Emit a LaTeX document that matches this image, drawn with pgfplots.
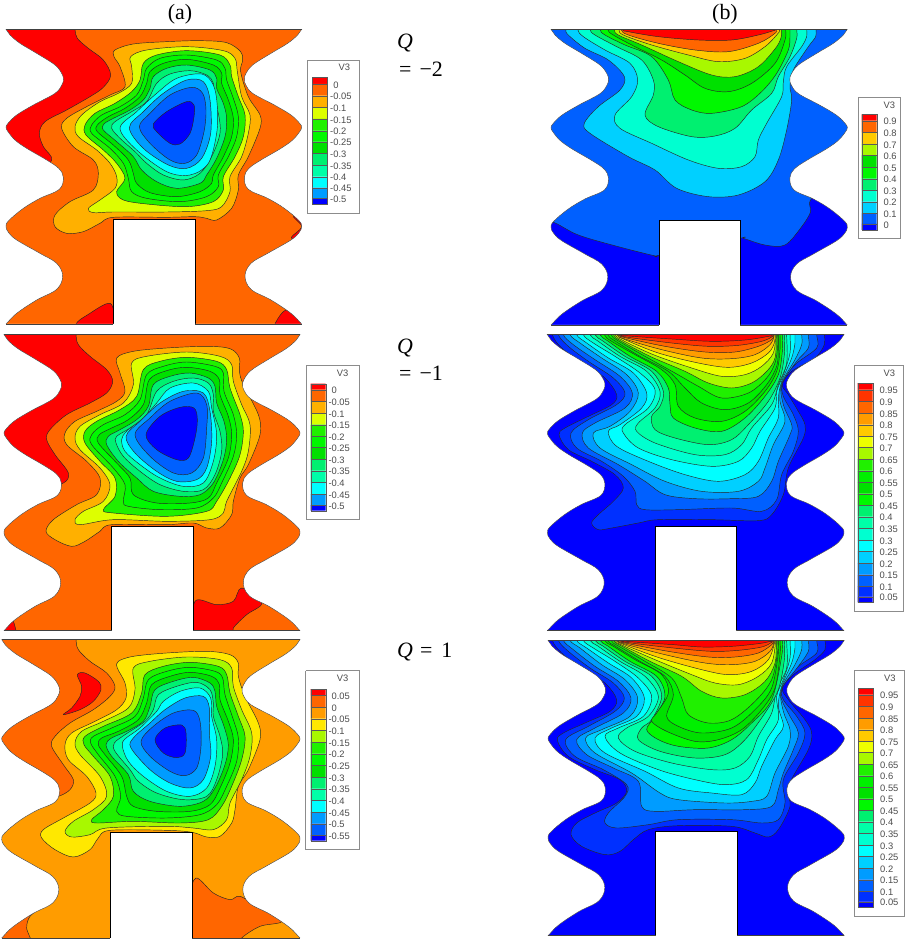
\documentclass[border=0pt]{standalone}
\usepackage{pgfplots}
\pgfplotsset{compat=1.18}
\usepackage{fontspec}
\setmainfont{Liberation Sans}
\newfontfamily\serifF{Liberation Serif}
\definecolor{r}{HTML}{FF0000}\definecolor{ro}{HTML}{FF3400}\definecolor{o}{HTML}{FF6600}
\definecolor{am}{HTML}{FF9C00}\definecolor{amb}{HTML}{FFB000}\definecolor{go}{HTML}{FFCA00}
\definecolor{ye}{HTML}{EEFF00}\definecolor{yeb}{HTML}{DDFF00}\definecolor{yec}{HTML}{FFE800}
\definecolor{lg}{HTML}{A8F800}\definecolor{ga}{HTML}{20F000}\definecolor{gb}{HTML}{00F000}
\definecolor{gc}{HTML}{00E000}\definecolor{gd}{HTML}{00F800}\definecolor{ge}{HTML}{00F070}
\definecolor{sa}{HTML}{00FFA8}\definecolor{sb}{HTML}{00FFD0}\definecolor{cy}{HTML}{00FFFF}
\definecolor{sk}{HTML}{00D0FF}\definecolor{skb}{HTML}{009CFF}\definecolor{ba}{HTML}{0060FF}
\definecolor{bb}{HTML}{0030FF}\definecolor{bl}{HTML}{0000FF}
\colorlet{cl}{black!85}
\newcommand\R[2]{\addplot[smooth cycle,tension=.55,fill=#1,draw=cl,line width=.45bp] coordinates {#2};}
% open contour leaving through the top edge T at x = #3 and x = #4
\newcommand\RT[5]{\addplot[smooth cycle,tension=.55,fill=#1,draw=cl,line width=.45bp] coordinates {(#3,#2-40)(#3,#2)#5(#4,#2)(#4,#2-40)};}
\newcommand\Base[5]{\addplot[fill=#1,draw=none] coordinates {(#2,#4)(#3,#4)(#3,#5)(#2,#5)(#2,#4)};}
\newcommand\Shape[7]{%
 \addplot[smooth cycle,tension=.6,fill=white,draw=black!75,line width=.4bp,
   x filter/.expression={#1+(x-18)*(#2-#1)/887},y filter/.expression={#3+(y-88)*(#4-#3)/884}]
   coordinates {(-400,-100)(-200,-60)(-20,60)(18,88)(30,105)(60,130)(110,160)(165,195)(186,222)(190,238)(186,254)(165,280)(100,315)(50,345)(24,370)(18,382)(24,395)(45,420)(80,445)(140,480)(176,505)(190,532)(178,568)(120,595)(70,625)(26,662)(18,680)(26,698)(50,720)(120,760)(170,790)(188,828)(170,868)(110,900)(50,940)(18,972)(-20,1010)(-200,1100)(-400,1100)};
 \addplot[smooth cycle,tension=.6,fill=white,draw=black!75,line width=.4bp,
   x filter/.expression={#2-(x-18)*(#2-#1)/887},y filter/.expression={#3+(y-88)*(#4-#3)/884}]
   coordinates {(-400,-100)(-200,-60)(-20,60)(18,88)(30,105)(60,130)(110,160)(165,195)(186,222)(190,238)(186,254)(165,280)(100,315)(50,345)(24,370)(18,382)(24,395)(45,420)(80,445)(140,480)(176,505)(190,532)(178,568)(120,595)(70,625)(26,662)(18,680)(26,698)(50,720)(120,760)(170,790)(188,828)(170,868)(110,900)(50,940)(18,972)(-20,1010)(-200,1100)(-400,1100)};
 \addplot[fill=white,draw=black,line width=.8bp] coordinates {(#5,#4+20)(#5,#7)(#6,#7)(#6,#4+20)};
 \addplot[fill=white,draw=none] coordinates {(-50,-50)(1200,-50)(1200,#3)(-50,#3)(-50,-50)};
 \addplot[fill=white,draw=none] coordinates {(-50,#4)(1200,#4)(1200,#4+200)(-50,#4+200)(-50,#4)};
 \addplot[draw=black!75,line width=.5bp] coordinates {(#1,#3)(#2,#3)};
 \addplot[draw=black!75,line width=.5bp] coordinates {(#1,#4)(#5,#4)};
 \addplot[draw=black!75,line width=.5bp] coordinates {(#6,#4)(#2,#4)};
}
% legend
\tikzset{lab/.style={anchor=west,inner sep=0pt,text=black!70,font=\fontsize{9.4}{10}\selectfont}}
\newcommand\LegBox[9]{% x0 y0 x1 y1 , sa sb tx ytop , V3 x
 \addplot[fill=white,draw=black!45,line width=.8bp] coordinates {(#1,#2)(#3,#2)(#3,#4)(#1,#4)(#1,#2)};
 \node[lab] at (axis cs:#9,#2+23) {V3};
 \def\sA{#5}\def\sB{#6}\def\tX{#7}\def\yC{#8}}
\newcommand\Sw[3]{%
 \edef\tmp{\noexpand\addplot[fill=#1,draw=black!65,line width=.3bp] coordinates {(\sA,\yC)(\sB,\yC)(\sB,#2)(\sA,#2)(\sA,\yC)};
 \noexpand\node[lab] at (axis cs:\tX,#2+3) {\unexpanded{#3}};}\tmp
 \def\yC{#2}}
\newcommand\SwE[2]{%
 \edef\tmp{\noexpand\addplot[fill=#1,draw=black!65,line width=.3bp] coordinates {(\sA,\yC)(\sB,\yC)(\sB,#2)(\sA,#2)(\sA,\yC)};}\tmp}
\pgfplotsset{panel/.style n args={4}{scale only axis,hide axis,anchor=south west,
  at={(#1bp,#2bp)},width=#3bp,height=#4bp,xmin=0,xmax=3*#3,ymin=0,ymax=3*#4,y dir=reverse}}
\newcommand\PH{\phantom{-}}
\begin{document}
\begin{tikzpicture}
\path[use as bounding box] (0,0) rectangle (906bp,941bp);
% ---------- A1
\begin{axis}[panel={0}{611}{360}{330}]
\Base{o}{18}{905}{88}{972}
\R{r}{(225,50)(225,88)(232,115)(265,145)(310,180)(332,225)(310,262)(270,290)(200,330)(135,365)(118,400)(130,440)(155,480)(100,520)(-50,500)(-50,50)}
\R{r}{(228,972)(262,945)(330,910)(345,970)(340,1010)(228,1010)}
\R{r}{(880,645)(905,680)(875,715)(950,720)(950,640)}
\R{r}{(825,972)(860,930)(905,970)(930,1010)(825,1010)}
\R{amb}{(345,150)(400,132)(500,125)(600,122)(680,128)(722,155)(728,180)(722,215)(745,290)(780,345)(780,385)(745,470)(715,525)(715,570)(695,625)(650,660)(620,655)(585,650)(500,652)(340,652)(300,670)(250,695)(200,700)(165,680)(165,645)(210,605)(280,570)(295,520)(280,480)(220,440)(185,385)(200,355)(260,320)(330,285)(375,260)(360,200)(342,170)}
\R{yeb}{(392,170)(440,150)(560,140)(670,152)(705,175)(712,215)(725,290)(750,345)(745,400)(725,470)(690,530)(690,575)(665,620)(620,632)(500,636)(340,636)(280,638)(265,625)(300,600)(345,565)(350,530)(330,490)(290,450)(235,410)(225,380)(245,345)(300,305)(355,280)(395,250)(395,200)}
\R{ga}{(430,190)(470,165)(560,152)(660,165)(690,195)(695,230)(715,290)(735,345)(730,410)(705,470)(670,530)(670,570)(640,605)(560,620)(440,612)(370,600)(350,575)(375,535)(350,490)(310,450)(258,405)(255,375)(285,340)(345,310)(395,275)(420,240)}
\R{gd}{(440,205)(480,175)(560,165)(650,180)(675,205)(680,240)(700,295)(715,350)(710,410)(685,470)(655,525)(655,560)(620,590)(540,605)(440,595)(395,575)(385,535)(370,490)(330,445)(275,400)(275,375)(305,345)(360,320)(410,285)(430,240)}
\R{gc}{(450,215)(490,190)(560,178)(640,195)(665,220)(665,250)(685,300)(700,355)(695,410)(670,470)(640,525)(635,550)(600,575)(530,590)(450,578)(410,550)(400,520)(385,480)(340,435)(292,395)(292,375)(325,350)(375,325)(420,290)(440,250)}
\R{ge}{(460,230)(500,205)(560,195)(630,210)(650,235)(650,265)(670,310)(680,355)(675,410)(650,475)(620,525)(600,550)(530,565)(470,545)(425,510)(400,470)(350,425)(310,390)(312,372)(340,355)(390,330)(430,300)(450,265)}
\R{sa}{(470,250)(510,222)(570,212)(620,225)(640,250)(640,290)(655,340)(660,400)(635,470)(600,520)(550,540)(490,525)(440,490)(405,455)(360,415)(335,385)(345,365)(395,335)(440,305)}
\R{cy}{(360,385)(410,335)(470,280)(530,235)(605,222)(640,255)(652,320)(650,400)(625,490)(570,525)(500,515)(410,450)}
\R{skb}{(388,383)(430,335)(490,280)(560,240)(610,245)(630,300)(632,400)(605,475)(560,505)(505,495)(430,445)}
\R{ba}{(418,380)(450,340)(510,285)(575,262)(608,280)(618,330)(612,395)(590,465)(555,490)(510,480)(450,430)}
\R{bl}{(460,372)(500,335)(560,305)(582,315)(582,350)(570,400)(540,432)(510,430)(470,395)}
\Shape{18}{905}{88}{972}{340}{585}{658}
\LegBox{922}{180}{1078}{640}{937}{982}{990}{232}{1015}
\Sw{r}{252}{\PH 0}\Sw{o}{287}{-0.05}\Sw{amb}{322}{-0.1}\Sw{yeb}{357}{-0.15}\Sw{ga}{392}{-0.2}\Sw{gd}{425}{-0.25}\Sw{gc}{460}{-0.3}\Sw{ge}{495}{-0.35}\Sw{sa}{530}{-0.4}\Sw{cy}{563}{-0.45}\Sw{skb}{595}{-0.5}\SwE{bl}{612}
\end{axis}
% ---------- A2
\begin{axis}[panel={0}{308}{360}{305}]
\Base{o}{12}{900}{20}{908}
\R{r}{(228,-20)(228,20)(235,50)(270,85)(320,125)(338,160)(320,195)(270,225)(200,260)(150,305)(140,335)(165,380)(205,435)(190,465)(120,480)(-50,480)(-50,-20)}
\R{r}{(585,820)(650,830)(700,820)(725,780)(785,825)(740,860)(700,900)(695,930)(585,930)}
\R{r}{(15,880)(35,870)(48,908)(48,930)(-20,930)(-20,880)}
\R{amb}{(350,90)(400,70)(500,60)(620,55)(690,62)(718,90)(718,130)(730,170)(775,260)(780,320)(745,410)(720,450)(700,520)(695,560)(660,600)(620,600)(580,585)(500,590)(335,590)(300,610)(255,640)(215,655)(165,635)(138,610)(160,575)(230,530)(290,500)(300,450)(260,400)(200,350)(195,315)(225,280)(290,250)(350,220)(375,190)(360,135)}
\R{yeb}{(395,105)(440,85)(560,72)(660,85)(695,110)(700,160)(725,230)(750,290)(745,370)(725,430)(680,520)(670,555)(630,575)(500,580)(340,575)(240,590)(225,575)(250,550)(310,520)(330,470)(300,420)(240,365)(225,330)(240,295)(300,260)(370,225)(400,170)}
\R{ga}{(430,125)(480,100)(560,88)(650,100)(680,125)(690,180)(720,260)(730,310)(720,380)(690,450)(650,520)(620,550)(500,565)(340,555)(310,545)(345,505)(345,450)(300,400)(255,345)(255,310)(290,280)(360,245)(410,205)}
\R{gd}{(440,140)(490,115)(560,102)(645,115)(670,135)(672,190)(700,260)(710,320)(700,385)(665,465)(640,510)(590,540)(480,545)(385,535)(370,520)(375,470)(340,420)(275,350)(275,320)(310,290)(375,260)(420,215)}
\R{gc}{(448,155)(500,128)(560,118)(630,130)(658,155)(660,200)(685,265)(695,320)(685,390)(650,465)(625,510)(570,525)(470,525)(400,500)(390,450)(350,405)(295,345)(298,320)(335,300)(385,275)(430,230)}
\R{ge}{(460,170)(510,145)(570,135)(625,150)(645,175)(650,225)(672,280)(680,335)(670,395)(640,465)(600,500)(540,505)(460,490)(410,450)(355,400)(320,350)(325,325)(360,305)(410,275)(445,235)}
\R{sa}{(470,190)(520,160)(580,150)(625,165)(640,200)(640,250)(660,310)(665,370)(645,440)(610,485)(550,490)(480,470)(420,430)(370,385)(348,345)(350,325)(390,300)(440,260)}
\R{cy}{(510,180)(580,165)(625,190)(635,240)(650,320)(640,400)(610,465)(550,475)(480,450)(420,410)(375,370)(365,335)(380,310)(430,270)(470,225)}
\R{skb}{(378,325)(420,280)(480,225)(550,190)(610,195)(630,250)(635,340)(620,420)(590,455)(530,460)(470,430)(405,375)}
\R{ba}{(405,320)(450,270)(510,220)(590,195)(620,230)(620,300)(610,390)(575,435)(520,435)(450,385)}
\R{bl}{(438,320)(480,265)(540,238)(582,240)(592,275)(585,330)(565,390)(530,395)(470,365)}
\Shape{12}{900}{20}{908}{335}{580}{595}
\LegBox{918}{112}{1078}{575}{932}{977}{985}{167}{1010}
\Sw{r}{185}{\PH 0}\Sw{o}{220}{-0.05}\Sw{amb}{255}{-0.1}\Sw{yeb}{290}{-0.15}\Sw{ga}{325}{-0.2}\Sw{gd}{358}{-0.25}\Sw{gc}{393}{-0.3}\Sw{ge}{428}{-0.35}\Sw{sa}{463}{-0.4}\Sw{cy}{498}{-0.45}\Sw{skb}{531}{-0.5}\SwE{bl}{548}
\end{axis}
% ---------- A3
\begin{axis}[panel={0}{0}{360}{308}]
\Base{am}{5}{900}{20}{915}
\R{o}{(228,-20)(228,20)(235,50)(270,85)(320,120)(345,160)(330,190)(280,230)(210,270)(165,310)(155,340)(190,395)(220,440)(210,470)(175,490)(120,500)(-50,500)(-50,-20)}
\R{r}{(232,125)(255,120)(295,145)(303,170)(280,205)(240,230)(190,245)(215,225)(240,190)(245,160)}
\R{o}{(125,820)(90,850)(80,885)(90,940)(-20,940)(-20,880)(20,870)(70,835)}
\R{o}{(588,735)(640,780)(690,800)(720,790)(780,825)(845,865)(780,880)(725,915)(720,940)(570,940)(570,800)}
\R{yec}{(355,85)(400,70)(500,60)(620,55)(690,65)(715,90)(715,130)(735,190)(775,270)(780,320)(745,410)(715,460)(705,530)(695,570)(660,610)(620,612)(577,598)(500,592)(330,592)(295,615)(270,650)(220,672)(165,650)(125,615)(130,590)(190,555)(270,510)(288,480)(260,430)(205,380)(195,335)(215,300)(285,265)(350,230)(378,195)(375,150)(352,105)}
\R{lg}{(400,105)(450,85)(560,72)(660,80)(695,105)(700,160)(725,230)(755,300)(750,370)(725,440)(690,510)(680,560)(640,590)(580,585)(500,580)(320,585)(270,605)(215,612)(195,595)(220,565)(280,530)(320,490)(300,430)(240,365)(225,330)(245,295)(310,265)(385,225)(405,170)}
\R{ga}{(435,125)(490,100)(570,88)(655,100)(680,125)(690,180)(715,250)(735,310)(725,380)(695,460)(665,520)(625,560)(540,570)(400,565)(290,570)(275,560)(310,530)(340,490)(330,430)(280,370)(252,335)(255,310)(310,280)(395,240)(425,180)}
\R{gd}{(445,140)(500,115)(570,103)(645,115)(668,135)(675,185)(700,260)(715,315)(710,385)(680,460)(650,515)(600,545)(500,555)(380,550)(350,535)(362,490)(345,430)(295,365)(272,330)(280,310)(335,285)(405,250)(430,195)}
\R{gc}{(455,155)(510,130)(570,118)(635,130)(658,155)(660,200)(685,265)(700,320)(690,390)(660,465)(630,515)(570,535)(470,535)(400,520)(380,490)(365,430)(315,365)(295,335)(305,315)(355,295)(415,260)(440,210)}
\R{ge}{(465,170)(520,145)(580,133)(630,150)(645,175)(650,220)(672,280)(685,335)(675,395)(645,465)(610,505)(540,520)(450,505)(400,475)(385,425)(335,370)(318,335)(335,315)(380,295)(430,265)(450,220)}
\R{sa}{(475,185)(530,160)(590,148)(630,170)(640,210)(640,250)(660,310)(668,365)(650,440)(620,490)(550,500)(470,480)(415,445)(390,410)(345,355)(343,330)(375,305)(435,265)(460,230)}
\R{cy}{(490,205)(540,175)(600,165)(632,195)(635,250)(650,320)(645,400)(620,465)(570,490)(500,475)(430,430)(385,385)(367,340)(375,318)(420,285)(470,235)}
\R{skb}{(495,230)(555,195)(610,190)(628,225)(628,300)(632,370)(610,440)(570,465)(510,450)(450,410)(393,345)(400,315)(450,270)}
\R{ba}{(423,325)(460,280)(520,240)(580,232)(600,265)(603,340)(590,405)(555,428)(510,415)(450,370)}
\R{bl}{(465,320)(495,285)(545,276)(558,300)(555,360)(530,374)(490,360)}
\Shape{5}{900}{20}{915}{330}{577}{598}
\LegBox{917}{113}{1078}{650}{932}{977}{985}{168}{1010}
\Sw{r}{186}{\PH 0.05}\Sw{o}{222}{\PH 0}\Sw{am}{257}{-0.05}\Sw{yec}{292}{-0.1}\Sw{lg}{327}{-0.15}\Sw{ga}{362}{-0.2}\Sw{gd}{397}{-0.25}\Sw{gc}{432}{-0.3}\Sw{ge}{467}{-0.35}\Sw{sa}{502}{-0.4}\Sw{cy}{537}{-0.45}\Sw{skb}{572}{-0.5}\Sw{ba}{606}{-0.55}\SwE{bl}{623}
\end{axis}
% ---------- B1
\begin{axis}[panel={545}{611}{361}{330}]
\Base{bl}{18}{907}{88}{975}
\R{ba}{(-50,660)(20,665)(100,705)(220,740)(332,768)(345,765)(585,715)(595,715)(660,735)(720,735)(770,680)(797,635)(800,595)(900,500)(1000,300)(1000,-20)(-50,-20)}
\RT{sk}{88}{62}{813}{(70,105)(120,145)(190,180)(238,230)(225,270)(160,320)(118,370)(135,400)(250,470)(330,510)(395,565)(490,590)(580,585)(660,545)(700,480)(725,390)(740,300)(735,260)(745,210)(790,140)(812,110)}
\RT{sb}{88}{98}{785}{(115,110)(180,150)(255,190)(278,240)(260,290)(210,345)(225,385)(320,430)(430,480)(520,505)(590,500)(630,470)(640,420)(665,370)(710,290)(715,245)(725,200)(770,140)(785,110)}
\RT{ge}{88}{135}{755}{(150,105)(215,140)(290,180)(325,240)(325,285)(300,345)(340,380)(440,410)(510,408)(570,385)(620,330)(680,280)(700,230)(735,170)(755,115)}
\RT{gd}{88}{165}{735}{(180,105)(240,135)(320,170)(370,240)(390,300)(440,330)(500,340)(590,320)(650,275)(695,220)(730,150)(735,110)}
\RT{gc}{88}{188}{722}{(205,105)(270,140)(350,180)(420,225)(480,265)(550,275)(620,250)(690,190)(720,120)}
\RT{lg}{88}{208}{710}{(220,105)(290,135)(400,185)(500,225)(570,230)(640,200)(695,140)(710,105)}
\RT{go}{88}{222}{705}{(235,105)(320,135)(430,165)(520,185)(600,175)(660,140)(695,105)}
\RT{o}{88}{228}{695}{(250,105)(340,130)(450,150)(550,155)(640,130)(690,100)}
\RT{r}{88}{232}{690}{(250,95)(340,110)(460,120)(560,120)(640,105)(685,92)}
\Shape{18}{907}{88}{975}{343}{585}{660}
\LegBox{940}{293}{1065}{714}{950}{995}{1015}{343}{1015}
\Sw{r}{362}{0.9}\Sw{o}{397}{0.8}\Sw{go}{432}{0.7}\Sw{lg}{466}{0.6}\Sw{gc}{501}{0.5}\Sw{gd}{536}{0.4}\Sw{ge}{570}{0.3}\Sw{sb}{605}{0.2}\Sw{sk}{640}{0.1}\Sw{ba}{672}{0}\SwE{bl}{690}
\end{axis}
% ---------- B2
\begin{axis}[panel={545}{308}{361}{305}]
\Base{bl}{7}{897}{20}{908}
\RT{bb}{20}{22}{838}{(50,60)(120,110)(180,150)(215,200)(200,230)(130,265)(60,300)(42,320)(70,365)(140,400)(210,440)(235,480)(205,520)(160,560)(140,585)(160,605)(200,600)(280,585)(340,575)(500,575)(640,578)(680,560)(715,500)(730,420)(775,330)(780,290)(760,250)(730,200)(712,170)(740,130)(810,90)(838,50)}
\RT{ba}{20}{40}{815}{(70,55)(130,100)(205,150)(240,195)(215,230)(130,275)(78,315)(95,360)(170,400)(235,445)(270,490)(275,530)(300,545)(400,545)(560,540)(650,550)(695,515)(710,440)(745,370)(760,310)(745,260)(715,205)(712,165)(750,110)(815,60)}
\RT{skb}{20}{55}{790}{(85,50)(150,95)(225,145)(262,195)(240,240)(150,285)(112,315)(130,360)(220,410)(300,460)(360,500)(450,512)(560,512)(640,505)(680,460)(700,400)(735,320)(740,290)(715,230)(710,170)(755,100)(790,60)}
\RT{sk}{20}{75}{770}{(105,45)(170,90)(245,140)(280,195)(255,250)(195,295)(145,315)(165,360)(260,410)(360,460)(470,490)(580,490)(640,460)(660,420)(685,350)(720,280)(705,220)(710,165)(750,95)(770,50)}
\RT{cy}{20}{95}{750}{(125,45)(190,90)(265,135)(305,195)(290,240)(225,290)(190,310)(215,355)(310,400)(420,440)(520,460)(600,440)(640,400)(670,330)(700,270)(700,210)(710,160)(740,90)(750,45)}
\RT{sb}{20}{115}{735}{(145,45)(210,85)(285,135)(330,185)(310,240)(240,290)(235,315)(280,360)(380,395)(500,415)(580,400)(620,360)(645,310)(690,240)(695,190)(715,140)(735,75)}
\RT{sa}{20}{135}{725}{(160,40)(225,85)(305,130)(345,190)(330,240)(280,285)(275,310)(330,345)(450,380)(540,380)(590,350)(620,300)(680,230)(700,170)(725,105)}
\RT{ge}{20}{150}{718}{(175,40)(240,85)(320,130)(355,190)(345,235)(320,265)(330,305)(390,330)(490,350)(560,335)(610,290)(670,220)(705,150)(718,80)}
\RT{gd}{20}{165}{712}{(190,40)(255,85)(335,130)(370,180)(375,230)(385,270)(450,300)(530,310)(600,270)(660,205)(700,140)(712,70)}
\RT{gc}{20}{178}{705}{(200,40)(270,80)(350,125)(390,170)(400,235)(450,270)(530,280)(600,250)(660,190)(695,130)(705,65)}
\RT{gb}{20}{188}{700}{(212,40)(285,85)(370,130)(420,180)(470,225)(540,245)(610,225)(665,170)(695,115)(700,60)}
\RT{ga}{20}{198}{698}{(222,40)(300,85)(390,135)(460,175)(530,210)(610,195)(665,150)(690,105)(698,55)}
\RT{lg}{20}{205}{694}{(230,40)(315,85)(420,130)(490,165)(560,180)(620,165)(665,130)(690,90)}
\RT{ye}{20}{210}{692}{(235,38)(325,80)(440,120)(530,145)(600,140)(650,115)(685,75)}
\RT{go}{20}{215}{690}{(240,35)(340,75)(460,105)(550,118)(620,105)(670,75)(688,45)}
\RT{am}{20}{218}{688}{(240,33)(350,65)(470,90)(560,92)(630,80)(675,50)}
\RT{o}{20}{222}{686}{(245,30)(360,55)(480,72)(570,72)(640,55)(680,35)}
\RT{ro}{20}{225}{684}{(250,28)(380,45)(490,55)(580,52)(650,40)(680,27)}
\RT{r}{20}{228}{682}{(250,24)(380,33)(500,40)(600,36)(670,25)}
\Shape{7}{897}{20}{908}{330}{575}{595}
\LegBox{927}{113}{1075}{850}{938}{983}{1003}{165}{1015}
\Sw{r}{185}{0.95}\Sw{ro}{220}{0.9}\Sw{o}{255}{0.85}\Sw{am}{290}{0.8}\Sw{go}{325}{0.75}\Sw{ye}{358}{0.7}\Sw{lg}{393}{0.65}\Sw{ga}{428}{0.6}\Sw{gb}{462}{0.55}\Sw{gc}{497}{0.5}\Sw{gd}{532}{0.45}\Sw{ge}{566}{0.4}\Sw{sa}{601}{0.35}\Sw{sb}{636}{0.3}\Sw{cy}{670}{0.25}\Sw{sk}{705}{0.2}\Sw{skb}{740}{0.15}\Sw{ba}{774}{0.1}\Sw{bb}{806}{0.05}\SwE{bl}{823}
\end{axis}
% ---------- B3
\begin{axis}[panel={545}{0}{361}{308}]
\Base{bl}{9}{898}{22}{908}
\RT{bb}{22}{22}{840}{(50,60)(120,115)(180,150)(215,200)(195,235)(120,270)(55,300)(37,322)(70,370)(150,410)(225,440)(245,475)(215,510)(150,540)(95,570)(78,605)(110,640)(180,665)(225,655)(265,620)(310,590)(400,578)(560,580)(630,600)(670,612)(700,590)(735,520)(730,460)(790,350)(800,300)(780,260)(730,200)(712,165)(745,125)(810,80)(840,50)}
\RT{ba}{22}{40}{815}{(70,55)(135,105)(205,150)(238,195)(210,235)(130,280)(62,320)(90,370)(175,410)(245,455)(240,490)(190,540)(180,570)(215,585)(310,575)(400,560)(560,560)(650,570)(700,560)(720,510)(715,440)(760,360)(780,300)(755,250)(715,200)(712,165)(755,105)(815,60)}
\RT{skb}{22}{55}{790}{(85,50)(150,100)(220,145)(258,195)(235,240)(150,285)(95,320)(125,365)(205,405)(280,445)(290,520)(330,535)(450,530)(600,530)(680,520)(700,470)(715,420)(745,350)(760,300)(735,250)(710,200)(710,165)(760,100)(790,55)}
\RT{sk}{22}{75}{770}{(105,45)(170,95)(240,140)(278,195)(255,250)(170,290)(122,315)(150,360)(260,420)(345,480)(400,500)(540,510)(620,505)(665,490)(690,420)(730,340)(735,290)(715,235)(708,170)(750,95)(770,50)}
\RT{cy}{22}{95}{750}{(125,45)(190,90)(260,135)(298,195)(275,250)(200,285)(150,315)(180,360)(300,415)(400,465)(500,480)(590,485)(630,450)(650,400)(690,320)(715,280)(700,220)(710,160)(740,90)(750,45)}
\RT{sb}{22}{115}{735}{(145,45)(210,85)(280,135)(320,190)(295,250)(220,285)(180,310)(225,360)(340,410)(450,440)(540,455)(605,440)(640,380)(665,320)(700,260)(695,190)(715,140)(735,75)}
\RT{sa}{22}{135}{725}{(160,40)(225,85)(300,130)(340,190)(310,250)(245,285)(220,315)(270,355)(380,390)(500,410)(570,405)(615,370)(640,310)(680,240)(695,170)(725,105)}
\RT{ge}{22}{150}{718}{(175,40)(240,85)(320,130)(350,190)(320,260)(290,285)(280,320)(345,355)(450,375)(540,365)(600,320)(660,240)(700,170)(718,80)}
\RT{gd}{22}{165}{712}{(190,40)(255,85)(335,130)(360,190)(330,250)(305,290)(340,320)(400,340)(490,345)(560,320)(620,270)(680,200)(710,70)}
\RT{gc}{22}{178}{705}{(205,40)(270,80)(350,125)(370,180)(335,240)(320,265)(365,295)(450,325)(520,320)(590,290)(650,230)(690,165)(705,65)}
\RT{gb}{22}{188}{700}{(212,40)(285,85)(360,130)(385,185)(365,250)(400,280)(470,300)(560,285)(630,230)(680,165)(700,60)}
\RT{ga}{22}{198}{698}{(222,40)(300,85)(380,135)(410,195)(430,245)(490,270)(560,260)(630,205)(680,140)(698,55)}
\RT{lg}{22}{205}{694}{(232,40)(315,85)(410,130)(470,175)(530,195)(600,185)(660,145)(690,90)}
\RT{ye}{22}{210}{692}{(235,38)(330,80)(440,125)(510,150)(580,155)(640,130)(680,90)}
\RT{go}{22}{215}{690}{(240,36)(345,75)(470,110)(550,125)(620,115)(670,80)}
\RT{am}{22}{218}{688}{(240,33)(360,65)(480,90)(560,95)(630,85)(675,55)}
\RT{o}{22}{222}{686}{(245,31)(370,55)(490,72)(570,72)(640,60)(680,35)}
\RT{ro}{22}{225}{684}{(250,29)(385,45)(500,55)(580,52)(650,42)(680,28)}
\RT{r}{22}{228}{682}{(252,26)(385,35)(470,42)(560,40)(640,32)(672,26)}
\Shape{9}{898}{22}{908}{332}{577}{595}
\LegBox{928}{113}{1077}{850}{940}{985}{1005}{165}{1017}
\Sw{r}{185}{0.95}\Sw{ro}{220}{0.9}\Sw{o}{255}{0.85}\Sw{am}{290}{0.8}\Sw{go}{325}{0.75}\Sw{ye}{358}{0.7}\Sw{lg}{393}{0.65}\Sw{ga}{428}{0.6}\Sw{gb}{462}{0.55}\Sw{gc}{497}{0.5}\Sw{gd}{532}{0.45}\Sw{ge}{566}{0.4}\Sw{sa}{601}{0.35}\Sw{sb}{636}{0.3}\Sw{cy}{670}{0.25}\Sw{sk}{705}{0.2}\Sw{skb}{740}{0.15}\Sw{ba}{774}{0.1}\Sw{bb}{806}{0.05}\SwE{bl}{823}
\end{axis}
% text
\begin{scope}[every node/.style={font=\serifF\fontsize{22}{26}\selectfont,inner sep=0pt}]
\node at (180bp,927bp) {(a)};
\node at (725bp,927bp) {(b)};
\node[anchor=west] at (397bp,898bp) {\textit{Q}};
\node[anchor=west] at (399bp,872bp) {=\hspace{8pt}−2};
\node[anchor=west] at (397bp,593bp) {\textit{Q}};
\node[anchor=west] at (399bp,568bp) {=\hspace{8pt}−1};
\node[anchor=west] at (397bp,289bp) {\textit{Q}\hspace{7pt}=\hspace{9pt}1};
\end{scope}
\end{tikzpicture}
\end{document}
